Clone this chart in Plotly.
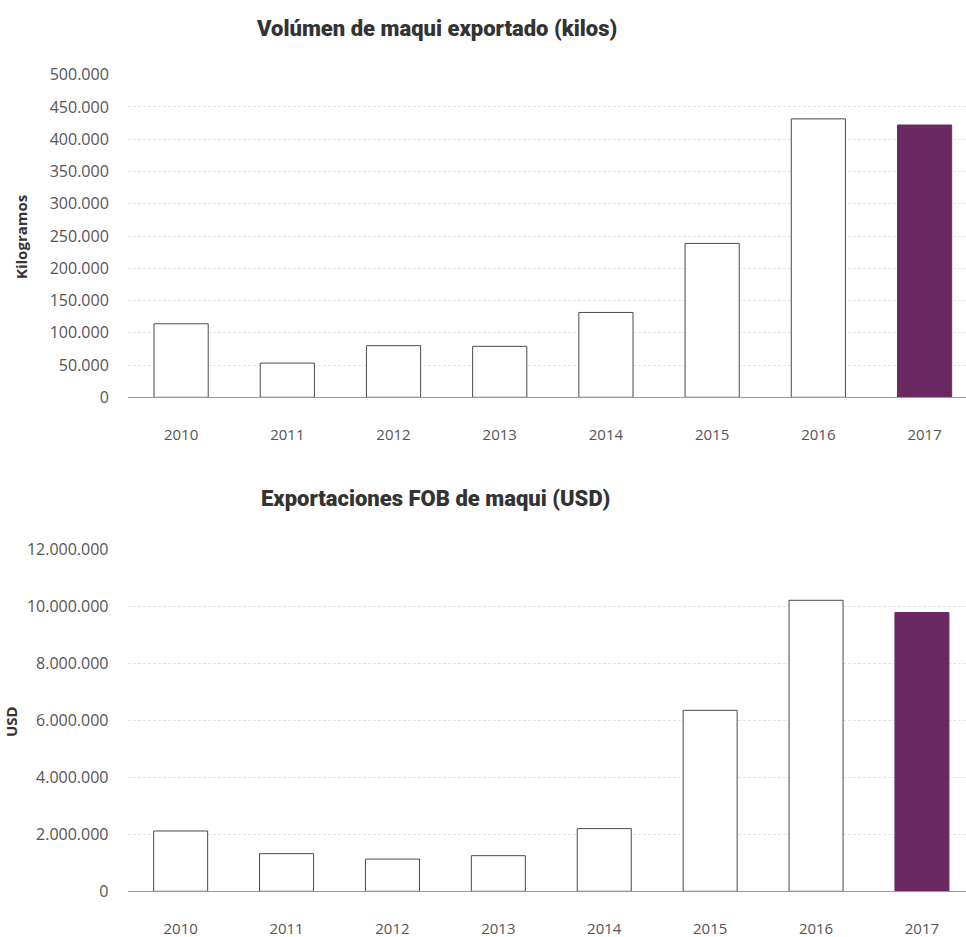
import plotly.graph_objects as go

years = ["2010", "2011", "2012", "2013", "2014", "2015", "2016", "2017"]
kilos = [114000, 53000, 80000, 79000, 131500, 238500, 431500, 422000]
usd = [2116000, 1320000, 1130000, 1250000, 2200000, 6350000, 10210000, 9780000]

title_top = "Volúmen de maqui exportado (kilos)"
title_bottom = "Exportaciones FOB de maqui (USD)"
ytitle_top = "Kilogramos"
ytitle_bottom = "USD"

W, H = 966, 937
PURPLE = "#6a2960"
OUTLINE = "#4a4a4a"
FONT = "Open Sans"


def py(p):
    return 1 - p / H


def px(p):
    return p / W


fills = [PURPLE if y == "2017" else "white" for y in years]
lines = [PURPLE if y == "2017" else OUTLINE for y in years]

fig = go.Figure()
fig.add_trace(go.Bar(x=years, y=kilos, marker=dict(color=fills, line=dict(color=lines, width=1)),
                     xaxis="x", yaxis="y", showlegend=False))
fig.add_trace(go.Bar(x=years, y=usd, marker=dict(color=fills, line=dict(color=lines, width=1)),
                     xaxis="x2", yaxis="y2", showlegend=False))

common_x = dict(type="category", showgrid=False, showline=True, linecolor="#9a9a9a", linewidth=1,
                ticks="outside", ticklen=24, tickcolor="rgba(0,0,0,0)", automargin=False,
                tickfont=dict(family=FONT, size=15, color="#555"), zeroline=False, fixedrange=True)
common_y = dict(showgrid=True, gridcolor="#e3e3e3", griddash="3px,2px", gridwidth=1, zeroline=False,
                showline=False, ticks="outside", ticklen=15, tickcolor="rgba(0,0,0,0)", automargin=False,
                tickfont=dict(family=FONT, size=16, color="#555"), tickformat=",d")

fig.update_layout(
    width=W, height=H, margin=dict(l=0, r=0, t=0, b=0, autoexpand=False),
    paper_bgcolor="white", plot_bgcolor="white", separators=",.",
    bargap=0.49,
    xaxis=dict(common_x, domain=[px(128), 1], range=[-0.5, 7.39], anchor="y"),
    yaxis=dict(common_y, domain=[py(397.3), py(74.7)], range=[0, 500000], dtick=50000, anchor="x"),
    xaxis2=dict(common_x, domain=[px(127.7), 1], range=[-0.5, 7.416], anchor="y2"),
    yaxis2=dict(common_y, domain=[py(891.3), py(549.3)], range=[0, 12000000], dtick=2000000, anchor="x2"),
)

ann_font = dict(family="Roboto", size=22, color="#333", weight=900)
fig.add_annotation(text=title_top, xref="paper", yref="paper", x=px(436), y=py(29),
                   xanchor="center", yanchor="middle", showarrow=False, font=ann_font)
fig.add_annotation(text=title_bottom, xref="paper", yref="paper", x=px(435), y=py(498),
                   xanchor="center", yanchor="middle", showarrow=False, font=ann_font)
yt_font = dict(family=FONT, size=15, color="#333", weight=700)
fig.add_annotation(text=ytitle_top, xref="paper", yref="paper", x=px(21), y=py(237),
                   xanchor="center", yanchor="middle", textangle=-90, showarrow=False, font=yt_font)
fig.add_annotation(text=ytitle_bottom, xref="paper", yref="paper", x=px(11), y=py(722),
                   xanchor="center", yanchor="middle", textangle=-90, showarrow=False, font=yt_font)

fig.write_html("out.html")
